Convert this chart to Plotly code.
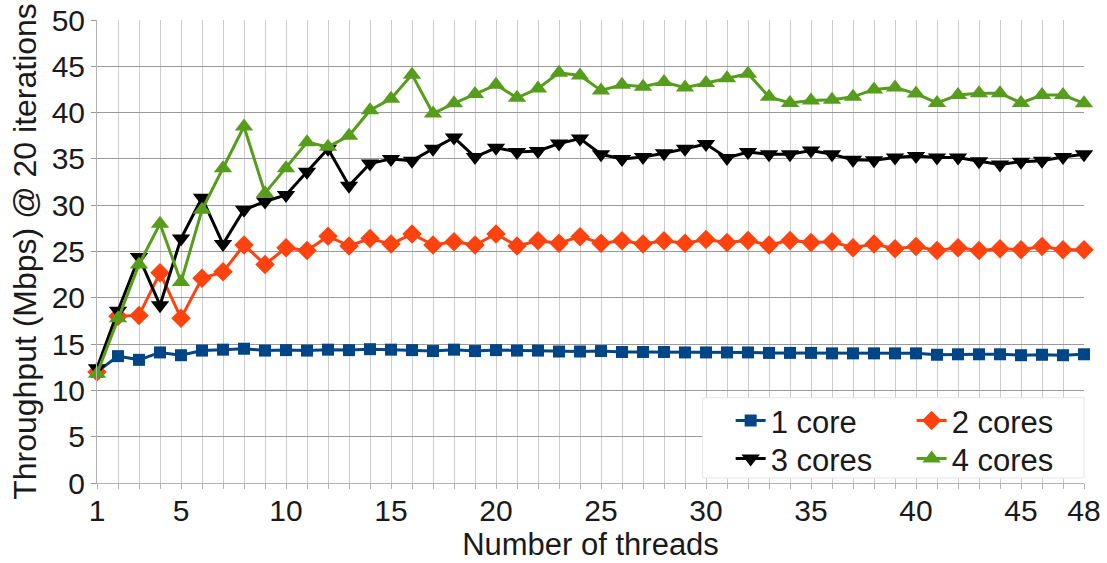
import plotly.graph_objects as go

# Thread counts on the x axis
threads = list(range(1, 49))

# Throughput (Mbps) per thread count, one list per core count
one_core = [12.0, 13.7, 13.3, 14.1, 13.8, 14.3, 14.4, 14.5, 14.3, 14.35,
            14.3, 14.4, 14.35, 14.45, 14.4, 14.35, 14.25, 14.4, 14.25, 14.35,
            14.3, 14.3, 14.2, 14.2, 14.25, 14.15, 14.15, 14.15, 14.1, 14.1,
            14.1, 14.1, 14.05, 14.05, 14.05, 14.0, 14.0, 14.0, 14.0, 14.0,
            13.85, 13.9, 13.9, 13.9, 13.8, 13.85, 13.8, 13.9]
two_cores = [12.0, 18.0, 18.1, 22.7, 17.8, 22.1, 22.8, 25.7, 23.6, 25.4,
             25.1, 26.65, 25.6, 26.4, 25.8, 26.9, 25.7, 26.05, 25.7, 26.9,
             25.6, 26.15, 25.9, 26.6, 25.9, 26.15, 25.8, 26.15, 25.9, 26.3,
             25.97, 26.2, 25.7, 26.2, 25.97, 26.05, 25.4, 25.8, 25.3, 25.55,
             25.1, 25.4, 25.1, 25.3, 25.2, 25.55, 25.2, 25.2]
three_cores = [12.4, 18.6, 24.4, 19.2, 26.4, 30.8, 25.8, 29.5, 30.4, 31.1,
               33.6, 36.1, 32.1, 34.5, 35.0, 34.8, 36.1, 37.3, 35.2, 36.2,
               35.75, 35.85, 36.65, 37.2, 35.5, 35.0, 35.2, 35.6, 36.1, 36.6,
               35.1, 35.75, 35.5, 35.5, 35.9, 35.5, 34.9, 34.85, 35.15, 35.3,
               35.15, 35.15, 34.75, 34.4, 34.7, 34.8, 35.2, 35.5]
four_cores = [11.8, 17.8, 23.6, 28.0, 21.7, 29.5, 34.0, 38.5, 31.3, 34.0,
              36.8, 36.3, 37.5, 40.25, 41.5, 44.1, 39.9, 41.0, 42.0, 43.0,
              41.6, 42.6, 44.3, 44.0, 42.4, 43.0, 42.8, 43.3, 42.7, 43.2,
              43.7, 44.2, 41.7, 41.05, 41.3, 41.4, 41.7, 42.5, 42.7, 42.05,
              41.05, 41.9, 42.1, 42.1, 41.05, 41.9, 41.9, 41.0]

x_tick_values = [1, 5, 10, 15, 20, 25, 30, 35, 40, 45, 48]
y_tick_values = [0, 5, 10, 15, 20, 25, 30, 35, 40, 45, 50]

FONT = "Liberation Sans"
TEXT = "#1a1a1a"

series = [
    ("1 core", one_core, "#004586", "square", 12, "legend"),
    ("2 cores", two_cores, "#ff420e", "diamond", 15, "legend"),
    ("3 cores", three_cores, "#000000", "triangle-down", 16, "legend2"),
    ("4 cores", four_cores, "#579d1c", "triangle-up", 16, "legend2"),
]

fig = go.Figure()
for name, values, color, symbol, size, legend in series:
    fig.add_trace(go.Scatter(
        x=threads, y=values, name=name, mode="lines+markers",
        line=dict(color=color, width=3),
        marker=dict(symbol=symbol, size=size, color=color),
        cliponaxis=False, legend=legend,
    ))

# White legend panel in the lower-right of the plot
fig.add_shape(type="rect", xref="paper", yref="paper",
              x0=0.6136, x1=1.0, y0=0.011, y1=0.184,
              fillcolor="white", line=dict(color="#e6e6e6", width=1),
              layer="above")

legend_common = dict(
    orientation="h", xanchor="left", yanchor="middle",
    bgcolor="rgba(0,0,0,0)", borderwidth=0,
    font=dict(family=FONT, size=31, color=TEXT),
    entrywidth=136, itemwidth=30,
)

fig.update_layout(
    width=1107, height=563,
    margin=dict(l=97, r=23, t=20, b=80, autoexpand=False),
    paper_bgcolor="white", plot_bgcolor="white",
    font=dict(family=FONT, size=30, color=TEXT),
    showlegend=True,
    legend=dict(x=0.642, y=0.134, **legend_common),
    legend2=dict(x=0.642, y=0.052, **legend_common),
    xaxis=dict(
        range=[1, 48], tickmode="array", tickvals=x_tick_values,
        showgrid=True, gridcolor="#cccccc", gridwidth=1,
        showline=True, linecolor="#b3b3b3", linewidth=1,
        ticks="outside", ticklen=5, tickcolor="#b3b3b3",
        ticklabelstandoff=-4,
        minor=dict(dtick=1, tick0=1, showgrid=True, gridcolor="#cccccc",
                   ticks="outside", ticklen=5, tickcolor="#b3b3b3"),
        tickfont=dict(family=FONT, size=30, color=TEXT),
        title=dict(text="Number of threads", standoff=2,
                   font=dict(family=FONT, size=31, color=TEXT)),
        zeroline=False, automargin=False,
    ),
    yaxis=dict(
        range=[0, 50], tickmode="array", tickvals=y_tick_values,
        showgrid=True, gridcolor="#9a9a9a", gridwidth=1,
        showline=True, linecolor="#b3b3b3", linewidth=1,
        ticks="outside", ticklen=5, tickcolor="#9a9a9a",
        tickfont=dict(family=FONT, size=30, color=TEXT),
        title=dict(text="Throughput (Mbps) @ 20 iterations", standoff=5,
                   font=dict(family=FONT, size=32, color=TEXT)),
        zeroline=False, automargin=False,
    ),
)

fig.write_html("out.html")
